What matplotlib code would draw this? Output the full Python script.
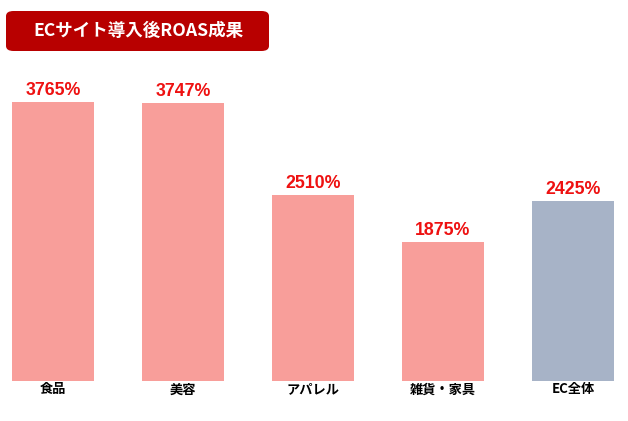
import matplotlib
matplotlib.use('Agg')
import matplotlib.pyplot as plt
from matplotlib.patches import FancyBboxPatch

categories = ['食品', '美容', 'アパレル', '雑貨・家具', 'EC全体']
roas = [3765, 3747, 2510, 1875, 2425]
bar_colors = ['#F89E9A', '#F89E9A', '#F89E9A', '#F89E9A', '#A7B3C7']
title_text = 'ECサイト導入後ROAS成果'

plt.rcParams['font.family'] = ['Noto Sans CJK JP', 'DejaVu Sans']

fig = plt.figure(figsize=(6.28, 4.21), dpi=100)
W, H = 628, 421

# axes spans full width; zero line at y=381 px from top
ax = fig.add_axes([0, 40 / H, 1, 321 / H])
px_per_unit = 279 / 3765
ax.set_ylim(0, 321 / px_per_unit)
ax.set_xlim(-53 / 130, (628 - 53) / 130)

x = range(len(categories))
ax.bar(x, roas, width=0.625, color=bar_colors)

for i, v in enumerate(roas):
    ax.text(i, v + 40, f'{v}%', ha='center', va='bottom', color='#EE1111',
            fontsize=12.8, fontweight='bold', family=['Liberation Sans'])

ax.set_xticks(list(x))
ax.set_xticklabels(categories, fontsize=9.5, fontweight='bold', color='black')
ax.tick_params(axis='x', length=0, pad=1)
ax.set_yticks([])
for s in ax.spines.values():
    s.set_visible(False)

# title box
box = FancyBboxPatch((6 / W, 1 - 51 / H), 263 / W, 40 / H,
                     boxstyle='round,pad=0,rounding_size=0.012',
                     transform=fig.transFigure, facecolor='#B80000',
                     edgecolor='none')
fig.patches.append(box)
fig.text(138 / W, 1 - 31 / H, title_text, ha='center', va='center',
         color='white', fontsize=12.6, fontweight='bold')

fig.savefig('out.png', dpi=100)
